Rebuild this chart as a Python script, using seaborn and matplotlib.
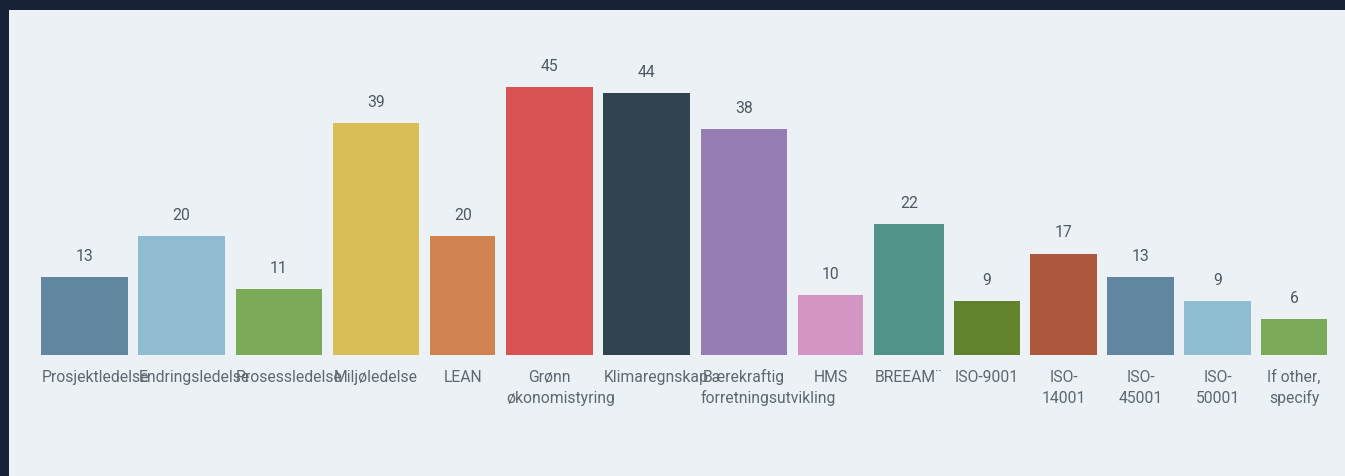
import matplotlib
matplotlib.use("Agg")
import matplotlib.pyplot as plt
from matplotlib.patches import Rectangle
import seaborn as sns
import pandas as pd
import numpy as np

# ---- data ----
categories = ["Prosjektledelse", "Endringsledelse", "Prosessledelse", "Miljøledelse", "LEAN",
              "Grønn\nøkonomistyring", "Klimaregnskap", "Bærekraftig\nforretningsutvikling", "HMS",
              "BREEAM¨", "ISO-9001", "ISO-\n14001", "ISO-\n45001", "ISO-\n50001", "If other,\nspecify"]
values = [13, 20, 11, 39, 20, 45, 44, 38, 10, 22, 9, 17, 13, 9, 6]
colors = ["#6286a0", "#8fbcd1", "#7bab58", "#d9bd55", "#d0824f", "#d95253", "#31444f", "#967eb5",
          "#d396c4", "#539287", "#63822e", "#ad583d", "#62869f", "#8ebcd1", "#7bab58"]

# ---- layout (bar widths in pixels, as in the original layout) ----
bar_widths = [86.7, 86.7, 86.7, 86.7, 65.4, 86.7, 86.7, 86.7, 65.4, 70.1, 65.4, 66.4, 66.4, 66.4, 65.4]
GAP = 10.6

W, H = 1345, 476
sns.set_theme(style="white")
plt.rcParams["font.family"] = ["Roboto", "DejaVu Sans"]

fig = plt.figure(figsize=(W / 100, H / 100), dpi=100, facecolor="#172236")
fig.patches.append(Rectangle((9 / W, 0), 1, (H - 10) / H, transform=fig.transFigure,
                             facecolor="#ecf1f5", edgecolor="none", zorder=-10))

left_px, right_px, base_px, top_px = 41.0, 1326.7, 354.7, 57.7
ax = fig.add_axes([left_px / W, (H - base_px) / H, (right_px - left_px) / W, (base_px - top_px) / H])
ax.set_facecolor("none")
ax.set_zorder(5)

df = pd.DataFrame({"cat": categories, "val": values})
sns.barplot(data=df, x="cat", y="val", hue="cat", palette=colors, legend=False,
            ax=ax, saturation=1, linewidth=0)

lefts = np.concatenate([[0.0], np.cumsum(np.array(bar_widths) + GAP)[:-1]])
for patch, l, w in zip(ax.patches, lefts, bar_widths):
    patch.set_x(l)
    patch.set_width(w)

ax.set_xlim(0, lefts[-1] + bar_widths[-1])
ax.set_ylim(0, 50)
for s in ax.spines.values():
    s.set_visible(False)
ax.set_xticks([])
ax.set_yticks([])
ax.set_xlabel("")
ax.set_ylabel("")

FS = 11.3
val_color = "#4e5964"
lab_color = "#5d6872"

for l, w, v in zip(lefts, bar_widths, values):
    ax.annotate(str(v), (l + w / 2, v), xytext=(0, 15), textcoords="offset points",
                ha="center", va="center", fontsize=FS, color=val_color)

texts = []
for l, w, cat in zip(lefts, bar_widths, categories):
    for i, line in enumerate(cat.split("\n")):
        t = ax.annotate(line, (l + w / 2, 0), xytext=(0, -19.7 - i * 15.1), textcoords="offset points",
                        ha="center", va="baseline", fontsize=FS, color=lab_color,
                        annotation_clip=False)
        texts.append((t, l, w))

fig.canvas.draw()
renderer = fig.canvas.get_renderer()
px_per_unit = ax.transData.transform((1, 0))[0] - ax.transData.transform((0, 0))[0]
for t, l, w in texts:
    if t.get_window_extent(renderer).width > w * px_per_unit:
        t.set_ha("left")
        t.xy = (l + 0.5, 0)

fig.savefig("out.png", dpi=100, facecolor=fig.get_facecolor())
